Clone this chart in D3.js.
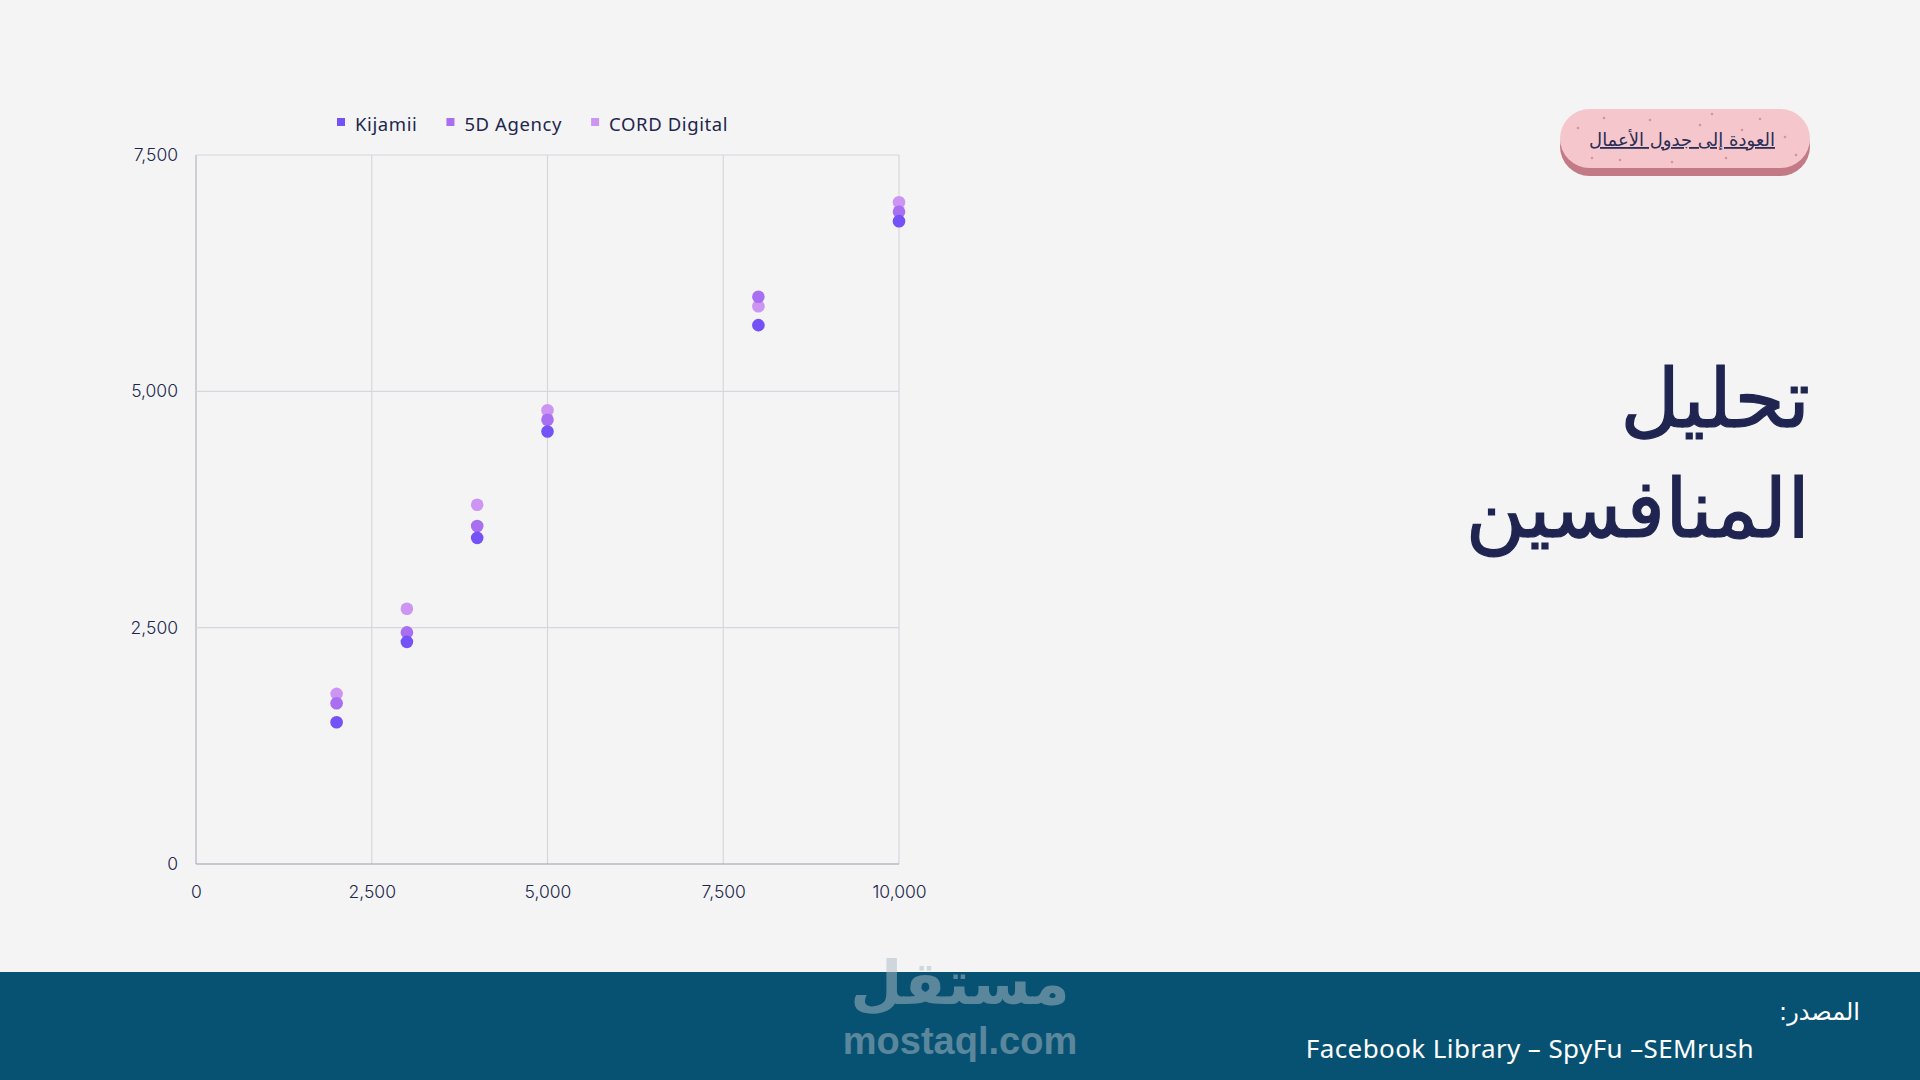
<!DOCTYPE html>
<html><head><meta charset="utf-8">
<script src="https://cdn.jsdelivr.net/npm/d3@7"></script>
<style>
html,body{margin:0;padding:0;background:#f4f4f4;}
svg{display:block;}
</style></head>
<body>
<svg id="c" width="1920" height="1080"></svg>
<script>
// ---- data ----
const seriesNames = ["Kijamii", "5D Agency", "CORD Digital"];
const seriesColors = ["#7452f7", "#a86ff1", "#cd95f3"];
const xValues = [2000, 3000, 4000, 5000, 8000, 10000];
const kijamii = [1500, 2350, 3450, 4575, 5700, 6800];
const agency5d = [1700, 2450, 3575, 4700, 6000, 6900];
const cordDigital = [1800, 2700, 3800, 4800, 5900, 7000];
const xTicks = [0, 2500, 5000, 7500, 10000];
const yTicks = [0, 2500, 5000, 7500];
const titleLines = ["تحليل", "المنافسين"];
const buttonText = "العودة إلى جدول الأعمال";
const sourceLabel = "المصدر:";
const sourceText = "Facebook Library – SpyFu –SEMrush";

const svg = d3.select("#c");
const W = 1920, H = 1080;
const navy = "#22264d";
const fmt = d3.format(",");

svg.append("rect").attr("width", W).attr("height", H).attr("fill", "#f4f4f4");

const x = d3.scaleLinear().domain([0, 10000]).range([196, 899]);
const y = d3.scaleLinear().domain([0, 7500]).range([864, 155]);

// gridlines
const g = svg.append("g");
g.selectAll("line.vx").data(xTicks).join("line")
  .attr("x1", d => x(d)).attr("x2", d => x(d)).attr("y1", y(7500)).attr("y2", y(0))
  .attr("stroke", d => d === 0 ? "#b4b4c4" : "#d6d6de").attr("stroke-width", 1.2);
g.selectAll("line.hy").data(yTicks).join("line")
  .attr("y1", d => y(d)).attr("y2", d => y(d)).attr("x1", x(0)).attr("x2", x(10000))
  .attr("stroke", d => d === 0 ? "#9c9cb2" : "#d6d6de").attr("stroke-width", 1.2);

// axes
const tickFont = "Inter, 'Noto Sans', sans-serif";
const yAxis = svg.append("g").attr("transform", `translate(${x(0)},0)`)
  .call(d3.axisLeft(y).tickValues(yTicks).tickSize(0).tickPadding(18).tickFormat(fmt));
const xAxis = svg.append("g").attr("transform", `translate(0,${y(0)})`)
  .call(d3.axisBottom(x).tickValues(xTicks).tickSize(0).tickPadding(22).tickFormat(fmt));
[yAxis, xAxis].forEach(a => {
  a.select(".domain").remove();
  a.selectAll("text").attr("fill", navy).style("font-family", tickFont)
    .style("font-size", "17.5px").style("font-weight", 300);
});

// points
const seriesData = [kijamii, agency5d, cordDigital];
[2, 1, 0].forEach(si => {
  svg.append("g").selectAll("circle").data(seriesData[si]).join("circle")
    .attr("cx", (d, i) => x(xValues[i])).attr("cy", d => y(d))
    .attr("r", 6.3).attr("fill", seriesColors[si]);
});

// legend
const leg = svg.append("g");
let lx = 337;
seriesNames.forEach((n, i) => {
  leg.append("rect").attr("x", lx).attr("y", 118).attr("width", 8).attr("height", 8)
    .attr("fill", seriesColors[i]);
  const t = leg.append("text").attr("x", lx + 18).attr("y", 131).text(n)
    .attr("fill", navy).style("font-family", "'Noto Sans', sans-serif").style("font-size", "18.5px")
    .style("letter-spacing", "0.6px");
  lx += 18 + t.node().getComputedTextLength() + 29;
});

// title
const title = svg.append("g");
titleLines.forEach((t, i) => {
  title.append("text").attr("x", 1810).attr("y", 427 + i * 110)
    .attr("direction", "rtl").attr("text-anchor", "start")
    .attr("fill", "#1f2550").style("font-family", "'DejaVu Sans', sans-serif")
    .style("font-size", "82px").attr("stroke", "#1f2550").attr("stroke-width", 1.2).text(t);
});

// button
const btn = svg.append("g");
btn.append("rect").attr("x", 1560).attr("y", 117).attr("width", 250).attr("height", 59)
  .attr("rx", 29.5).attr("fill", "#c27b86");
btn.append("rect").attr("x", 1560).attr("y", 109).attr("width", 250).attr("height", 59)
  .attr("rx", 29.5).attr("fill", "#f5c7cd");
const speckles = [[1578,128],[1604,118],[1633,140],[1650,120],[1700,125],[1726,158],[1760,119],[1785,137],[1796,155],[1592,158],[1672,162],[1742,130],[1620,160],[1712,114]];
btn.selectAll("circle").data(speckles).join("circle")
  .attr("cx", d => d[0]).attr("cy", d => d[1]).attr("r", 1.3).attr("fill", "#c8808b").attr("opacity", 0.7);
btn.append("text").attr("x", 1682).attr("y", 146).attr("text-anchor", "middle")
  .attr("direction", "rtl")
  .attr("fill", "#2a2d55").style("font-family", "'DejaVu Sans', sans-serif")
  .style("font-size", "18px").style("text-decoration", "underline").text(buttonText);

// footer
svg.append("rect").attr("x", 0).attr("y", 972).attr("width", W).attr("height", 108).attr("fill", "#075273");
svg.append("text").attr("x", 1860).attr("y", 1020)
  .attr("direction", "rtl").attr("text-anchor", "start")
  .attr("fill", "#ffffff").style("font-family", "'DejaVu Sans', sans-serif").style("font-size", "24px")
  .text(sourceLabel);
svg.append("text").attr("x", 1754).attr("y", 1058).attr("text-anchor", "end")
  .attr("fill", "#ffffff").style("font-family", "'Noto Sans', sans-serif").style("font-size", "26px")
  .style("letter-spacing", "0.4px").text(sourceText);

// watermark
const wm = svg.append("g").attr("opacity", 0.5);
wm.append("text").attr("x", 960).attr("y", 1004).attr("text-anchor", "middle")
  .attr("fill", "#aebcc6").style("font-family", "'DejaVu Sans', sans-serif").style("font-weight", "bold")
  .style("font-size", "60px").text("مستقل");
wm.append("text").attr("x", 960).attr("y", 1054).attr("text-anchor", "middle")
  .attr("fill", "#aebcc6").style("font-family", "'Liberation Sans', Arial, sans-serif").style("font-weight", "bold")
  .style("font-size", "38px").text("mostaql.com");
</script>
</body></html>
